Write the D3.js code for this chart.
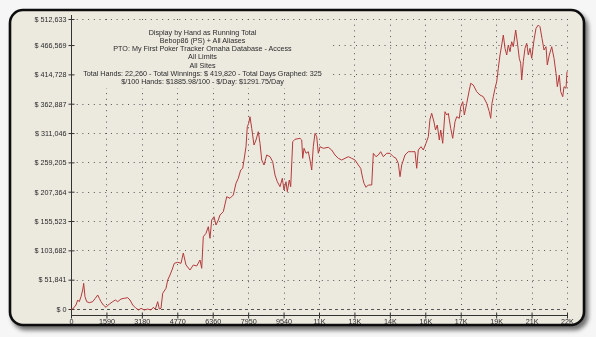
<!DOCTYPE html>
<html>
<head>
<meta charset="utf-8">
<script src="https://cdn.jsdelivr.net/npm/d3@7"></script>
<style>
  html, body { margin: 0; padding: 0; background: #f6f6f6; }
  svg { display: block; will-change: transform; }
  text { font-family: "Liberation Sans", Arial, sans-serif; fill: #2a2a2a; }
</style>
</head>
<body>
<svg id="chart" width="596" height="337"></svg>
<script>
// Running total of winnings by hand number
const hands = [
  0, 76, 224, 301, 372, 449, 525, 570, 628, 705, 821, 974, 1091, 1198, 1270, 1346, 1450, 1571,
  1719, 1871, 1988, 2096, 2244, 2392, 2545, 2648, 2769, 2917, 3038, 3142, 3290, 3442, 3590, 3694,
  3783, 3891, 3963, 4039, 4115, 4264, 4340, 4443, 4533, 4636, 4789, 4937, 5040, 5161, 5341, 5489,
  5641, 5790, 5866, 5938, 6059, 6162, 6238, 6315, 6418, 6508, 6611, 6687, 6835, 6988, 7136, 7284,
  7405, 7508, 7616, 7706, 7764, 7854, 7912, 7975, 8033, 8110, 8213, 8303, 8406, 8482, 8559, 8662,
  8783, 8931, 9052, 9156, 9259, 9380, 9483, 9559, 9649, 9707, 9797, 9860, 9950, 10053, 10277, 10354,
  10399, 10457, 10547, 10650, 10726, 10803, 10874, 10951, 11027, 11099, 11175, 11323, 11548, 11700,
  11848, 11996, 12149, 12297, 12445, 12598, 12746, 12894, 13002, 13091, 13150, 13240, 13343, 13496,
  13567, 13688, 13791, 13899, 14016, 14168, 14317, 14465, 14586, 14689, 14766, 14842, 14990, 15138,
  15291, 15439, 15515, 15587, 15708, 15811, 15932, 16036, 16112, 16188, 16291, 16359, 16439, 16529,
  16592, 16682, 16785, 16862, 16933, 17041, 17131, 17234, 17311, 17427, 17490, 17580, 17652, 17759,
  17876, 17939, 18055, 18208, 18356, 18504, 18657, 18773, 18836, 18894, 18953, 19029, 19105, 19177,
  19253, 19330, 19402, 19478, 19554, 19626, 19702, 19778, 19850, 19958, 20047, 20119, 20182, 20227,
  20299, 20375, 20452, 20524, 20600, 20676, 20779, 20869, 20972, 21048, 21138, 21228, 21318, 21376,
  21466, 21574, 21677, 21767, 21826, 21915, 21978, 22068, 22126, 22216, 22260
];
const winnings = [
  0, 0, 7071, 15909, 12904, 21743, 33586, 45430, 21743, 12904, 11137, 12904, 18914, 24748, 18914,
  12904, 7071, 3005, 8839, 12904, 15909, 12904, 17677, 18914, 19975, 15909, 7071, 1237, -1768, 1237,
  -1768, 0, -1768, 3005, -530, 12904, 0, 1237, 27753, 36591, 51263, 60102, 68940, 80784, 82552,
  80784, 98991, 77779, 68940, 77779, 76011, 86617, 71945, 127805, 133816, 145482, 124977, 157325,
  163158, 148487, 157325, 166164, 171997, 198514, 195685, 201518, 222200, 231039, 245710, 248715,
  263387, 286897, 322250, 328261, 339928, 319423, 289903, 298741, 313413, 292909, 263387, 254549,
  272226, 269221, 260382, 236872, 225029, 216190, 231039, 210356, 225029, 207352, 228034, 216190,
  295736, 299979, 301746, 298741, 266393, 284070, 275232, 278060, 263387, 245710, 286897, 310584,
  304574, 275232, 286897, 284070, 285837, 281064, 272226, 266393, 263387, 266393, 269221, 266393,
  263387, 254549, 248715, 231039, 222200, 215129, 219195, 219195, 275232, 269221, 272226, 278060,
  269221, 275232, 275232, 269221, 266393, 257554, 233867, 254549, 272226, 278060, 278060, 278060,
  248715, 281064, 286897, 281064, 292909, 304574, 335863, 345938, 330560, 316418, 325257, 298741,
  316418, 292909, 348766, 342932, 345938, 319423, 301746, 331090, 339928, 337100, 357605, 366444,
  342932, 363615, 387126, 398969, 395965, 384121, 378288, 375282, 363615, 348766, 337100, 363615,
  375282, 390131, 401798, 425484, 448993, 466671, 484348, 460837, 448993, 466671, 454827, 472504,
  463665, 493188, 466671, 443160, 434322, 404803, 437151, 460837, 469675, 448993, 460837, 443160,
  475509, 496191, 502024, 499019, 478515, 457832, 463665, 431317, 448993, 463665, 443160, 416645,
  392959, 413641, 384121, 375282, 392959, 390131, 419820
];

const xTicks = [0, 1590, 3180, 4770, 6360, 7950, 9540, 11130, 12720, 14310, 15900, 17490, 19080, 20670, 22260];
const xTickLabels = ["0", "1590", "3180", "4770", "6360", "7950", "9540", "11K", "13K", "14K", "16K", "17K", "19K", "21K", "22K"];
const yTicks = [0, 51841, 103682, 155523, 207364, 259205, 311046, 362887, 414728, 466569, 512633];

const titleLines = [
  "Display by Hand as Running Total",
  "Bebop86 (PS) + All Aliases",
  "PTO: My First Poker Tracker Omaha Database - Access",
  "All Limits",
  "All Sites",
  "Total Hands: 22,260 - Total Winnings: $ 419,820 - Total Days Graphed: 325",
  "$/100 Hands: $1885.98/100 - $/Day: $1291.75/Day"
];

const svg = d3.select("#chart");
const panelFill = "#ece9df";

// drop shadow for the panel
const defs = svg.append("defs");
const f = defs.append("filter").attr("id", "shadow")
  .attr("x", "-5%").attr("y", "-5%").attr("width", "115%").attr("height", "120%");
f.append("feDropShadow").attr("dx", 3).attr("dy", 4).attr("stdDeviation", 2.2)
  .attr("flood-color", "#000").attr("flood-opacity", 0.55);

svg.append("rect")
  .attr("x", 10).attr("y", 10).attr("width", 574).attr("height", 315)
  .attr("rx", 13).attr("ry", 13)
  .attr("fill", panelFill).attr("stroke", "#111").attr("stroke-width", 2.6)
  .attr("filter", "url(#shadow)");

const x = d3.scaleLinear().domain([0, 22260]).range([71, 567]);
const y = d3.scaleLinear().domain([0, 512633]).range([309, 19]);
const axisY = 315;

// grid
const grid = svg.append("g").attr("stroke", "#555").attr("stroke-width", 1);
grid.selectAll("line.h").data(yTicks).join("line")
  .attr("class", "h")
  .attr("x1", x(0)).attr("x2", x(22260))
  .attr("y1", d => Math.round(y(d)) + 0.5).attr("y2", d => Math.round(y(d)) + 0.5)
  .attr("stroke-dasharray", d => d === 0 ? "3,3" : "1,4.7");
grid.selectAll("line.v").data(xTicks.slice(1)).join("line")
  .attr("class", "v")
  .attr("x1", d => Math.round(x(d)) + 0.5).attr("x2", d => Math.round(x(d)) + 0.5)
  .attr("y1", y(512633)).attr("y2", y(0))
  .attr("stroke-dasharray", "1,4.7");

// title block sits on its own panel-coloured box over the grid
const title = svg.append("g");
title.append("rect")
  .attr("x", 73).attr("y", 24).attr("width", 256).attr("height", 64)
  .attr("fill", panelFill);
title.selectAll("text").data(titleLines).join("text")
  .attr("x", 202.5).attr("y", (d, i) => 35.3 + i * 8.05)
  .attr("text-anchor", "middle")
  .attr("font-size", 7.2)
  .attr("fill", "#222")
  .text(d => d);

// axes
const yAxis = d3.axisLeft(y).tickValues(yTicks).tickSize(3).tickPadding(2)
  .tickFormat(d => "$ " + d3.format(",")(d));
const gy = svg.append("g").attr("transform", "translate(71.5,0)").call(yAxis);
gy.select(".domain").attr("d", `M0,${y(512633) - 4}V${axisY}`);
gy.selectAll(".tick line").attr("x1", 3).attr("x2", -3);
gy.selectAll("text").attr("font-size", 7.2).attr("fill", "#2a2a2a")
  .attr("font-family", "Liberation Sans, Arial, sans-serif");
gy.selectAll("path, line").attr("stroke", "#333");

const xAxis = d3.axisBottom(x).tickValues(xTicks).tickSize(3).tickPadding(0)
  .tickFormat((d, i) => xTickLabels[i]);
const gx = svg.append("g").attr("transform", `translate(0,${axisY + 0.5})`).call(xAxis);
gx.select(".domain").attr("d", `M${x(0)},0H${x(22260) + 1}`);
gx.selectAll(".tick line").attr("y1", -3).attr("y2", 3);
gx.selectAll("text").attr("font-size", 7.2).attr("fill", "#2a2a2a")
  .attr("font-family", "Liberation Sans, Arial, sans-serif");
gx.selectAll("path, line").attr("stroke", "#333");

// running total line
const points = hands.map((h, i) => [h, winnings[i]]);
svg.append("path")
  .datum(points)
  .attr("fill", "none")
  .attr("stroke", "#b53a3a")
  .attr("stroke-width", 1)
  .attr("stroke-linejoin", "round")
  .attr("d", d3.line().x(d => x(d[0])).y(d => y(d[1])));
</script>
</body>
</html>
